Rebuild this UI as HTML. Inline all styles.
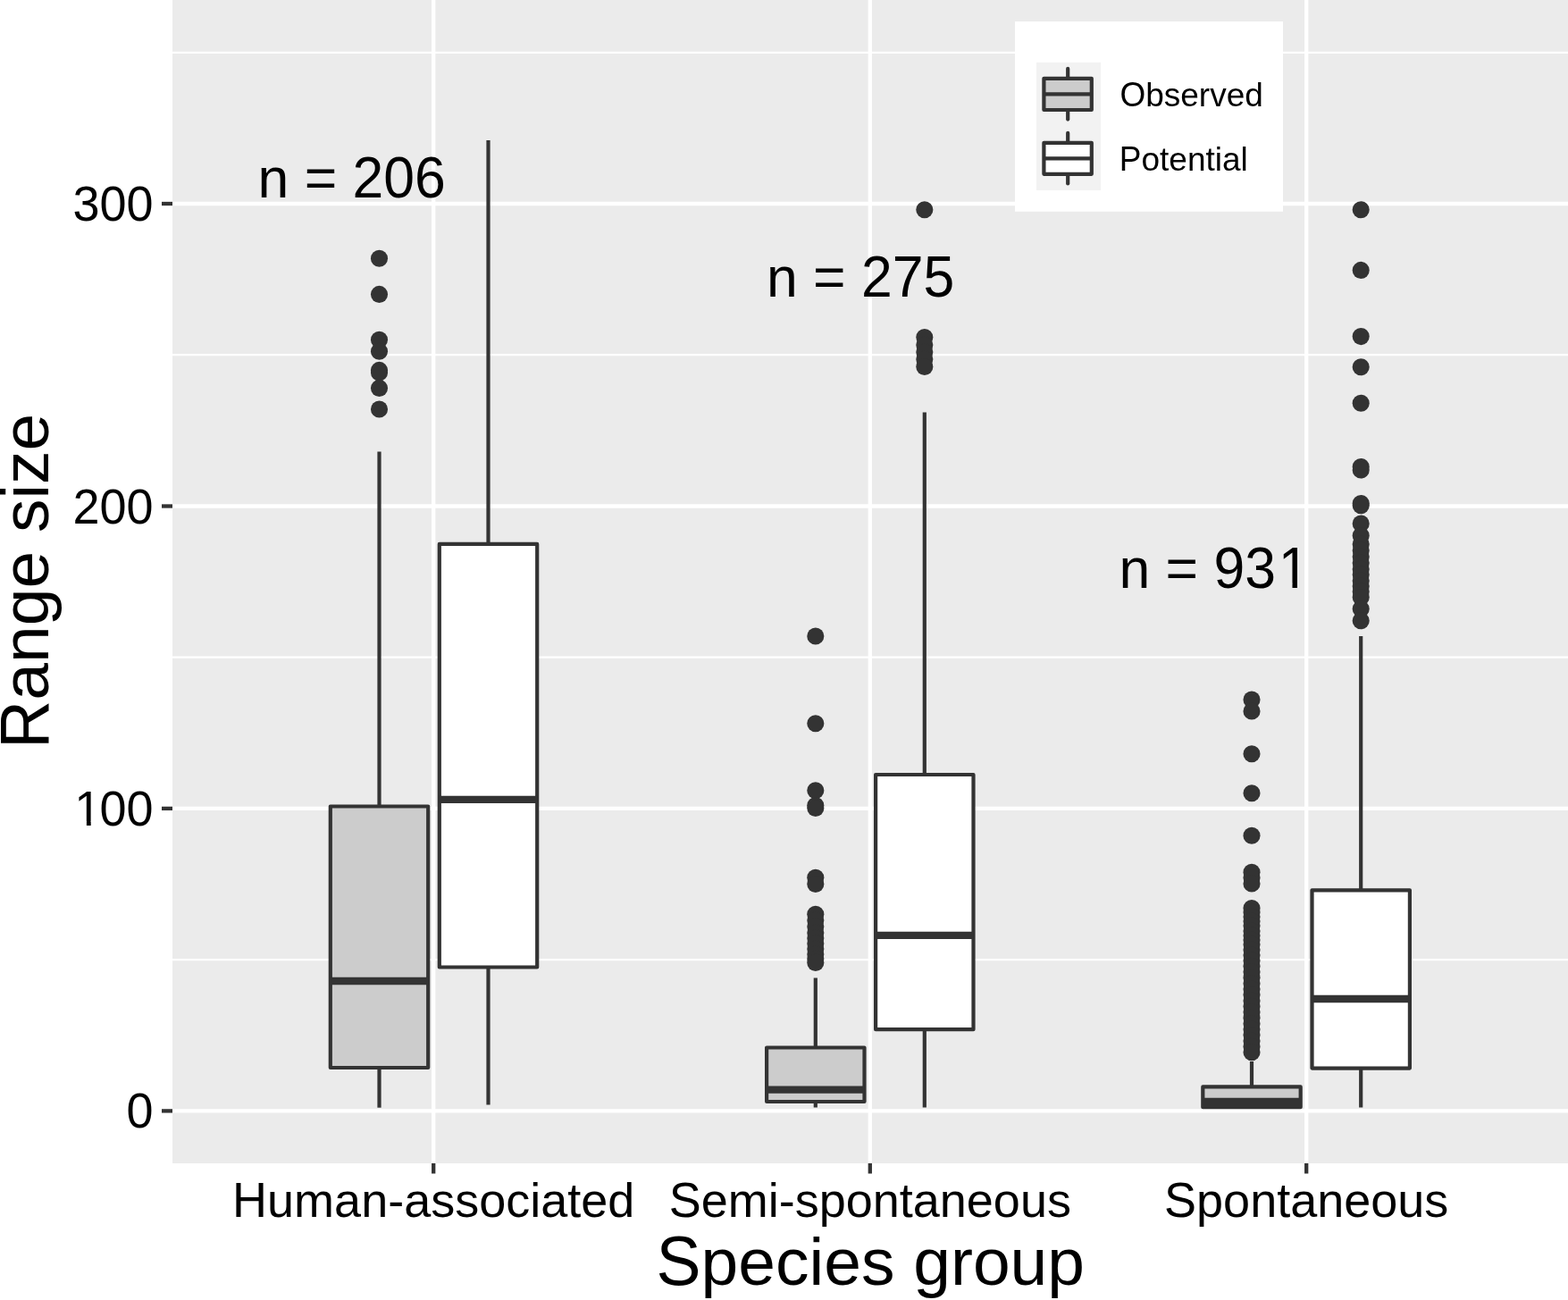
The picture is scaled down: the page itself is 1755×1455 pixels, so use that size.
<!DOCTYPE html>
<html><head><meta charset="utf-8"><title>Range size boxplot</title>
<style>
html,body{margin:0;padding:0;background:#fff;}
body{width:1755px;height:1455px;overflow:hidden;}
svg{display:block;}
text{font-family:"Liberation Sans",Arial,sans-serif;fill:#000;white-space:pre;}
</style></head><body>
<svg width="1755" height="1455" viewBox="0 0 1755 1455">
<defs>
<clipPath id="c100"><rect x="0" y="0" width="200" height="919.0"/><rect x="96.9" y="0" width="4.8" height="960"/></clipPath>
<clipPath id="c931"><rect x="1200" y="0" width="400" height="652.7"/><rect x="1446.5" y="0" width="5.5" height="700"/></clipPath>
</defs>
<rect x="0" y="0" width="1755" height="1455" fill="#fff"/>
<rect x="193" y="0" width="1562" height="1302" fill="#EBEBEB"/>

<line x1="193" x2="1755" y1="1074.2" y2="1074.2" stroke="#fff" stroke-width="2.2"/>
<line x1="193" x2="1755" y1="735.7" y2="735.7" stroke="#fff" stroke-width="2.2"/>
<line x1="193" x2="1755" y1="397.2" y2="397.2" stroke="#fff" stroke-width="2.2"/>
<line x1="193" x2="1755" y1="58.8" y2="58.8" stroke="#fff" stroke-width="2.2"/>
<line x1="193" x2="1755" y1="1243.4" y2="1243.4" stroke="#fff" stroke-width="4.3"/>
<line x1="193" x2="1755" y1="904.9" y2="904.9" stroke="#fff" stroke-width="4.3"/>
<line x1="193" x2="1755" y1="566.5" y2="566.5" stroke="#fff" stroke-width="4.3"/>
<line x1="193" x2="1755" y1="228.0" y2="228.0" stroke="#fff" stroke-width="4.3"/>
<line x1="485.2" x2="485.2" y1="0" y2="1302" stroke="#fff" stroke-width="4.3"/>
<line x1="973.8" x2="973.8" y1="0" y2="1302" stroke="#fff" stroke-width="4.3"/>
<line x1="1462.2" x2="1462.2" y1="0" y2="1302" stroke="#fff" stroke-width="4.3"/>
<g stroke="#333333" stroke-width="4.2" stroke-linejoin="round">
<line x1="424.5" x2="424.5" y1="505.5" y2="902.5"/>
<line x1="424.5" x2="424.5" y1="1195" y2="1239.7"/>
<rect x="369.8" y="902.5" width="109.4" height="292.5" fill="#CCCCCC"/>
<line x1="369.8" x2="479.2" y1="1098" y2="1098" stroke-width="8.3"/>
</g>
<g fill="#333333"><circle cx="424.5" cy="289.2" r="9.55"/><circle cx="424.5" cy="329.4" r="9.55"/><circle cx="424.5" cy="380.3" r="9.55"/><circle cx="424.5" cy="393.3" r="9.55"/><circle cx="424.5" cy="414.4" r="9.55"/><circle cx="424.5" cy="417.0" r="9.55"/><circle cx="424.5" cy="434.4" r="9.55"/><circle cx="424.5" cy="458.0" r="9.55"/></g>
<g stroke="#333333" stroke-width="4.2" stroke-linejoin="round">
<line x1="546.5" x2="546.5" y1="157.1" y2="608.9"/>
<line x1="546.5" x2="546.5" y1="1082.5" y2="1236.5"/>
<rect x="491.8" y="608.9" width="109.4" height="473.6" fill="#FFFFFF"/>
<line x1="491.8" x2="601.2" y1="894.8" y2="894.8" stroke-width="8.3"/>
</g>
<g stroke="#333333" stroke-width="4.2" stroke-linejoin="round">
<line x1="912.8" x2="912.8" y1="1094.5" y2="1172.5"/>
<line x1="912.8" x2="912.8" y1="1233" y2="1239.5"/>
<rect x="858.1" y="1172.5" width="109.4" height="60.5" fill="#CCCCCC"/>
<line x1="858.1" x2="967.5" y1="1219.7" y2="1219.7" stroke-width="8.3"/>
</g>
<g fill="#333333"><circle cx="912.8" cy="712.0" r="9.55"/><circle cx="912.8" cy="809.8" r="9.55"/><circle cx="912.8" cy="884.7" r="9.55"/><circle cx="912.8" cy="901.5" r="9.55"/><circle cx="912.8" cy="904.5" r="9.55"/><circle cx="912.8" cy="982.2" r="9.55"/><circle cx="912.8" cy="989.5" r="9.55"/><circle cx="912.8" cy="1023.3" r="9.55"/><circle cx="912.8" cy="1030.0" r="9.55"/><circle cx="912.8" cy="1037.0" r="9.55"/><circle cx="912.8" cy="1044.0" r="9.55"/><circle cx="912.8" cy="1050.0" r="9.55"/><circle cx="912.8" cy="1056.0" r="9.55"/><circle cx="912.8" cy="1062.0" r="9.55"/><circle cx="912.8" cy="1068.0" r="9.55"/><circle cx="912.8" cy="1073.0" r="9.55"/><circle cx="912.8" cy="1077.4" r="9.55"/></g>
<g stroke="#333333" stroke-width="4.2" stroke-linejoin="round">
<line x1="1034.8" x2="1034.8" y1="461.4" y2="867"/>
<line x1="1034.8" x2="1034.8" y1="1152.2" y2="1239.5"/>
<rect x="980.1" y="867" width="109.4" height="285.2" fill="#FFFFFF"/>
<line x1="980.1" x2="1089.5" y1="1046.8" y2="1046.8" stroke-width="8.3"/>
</g>
<g fill="#333333"><circle cx="1034.8" cy="234.7" r="9.55"/><circle cx="1034.8" cy="377.5" r="9.55"/><circle cx="1034.8" cy="386.0" r="9.55"/><circle cx="1034.8" cy="394.0" r="9.55"/><circle cx="1034.8" cy="402.0" r="9.55"/><circle cx="1034.8" cy="410.5" r="9.55"/></g>
<g stroke="#333333" stroke-width="4.2" stroke-linejoin="round">
<line x1="1401" x2="1401" y1="1188" y2="1216.4"/>
<line x1="1401" x2="1401" y1="1239.2" y2="1240.5"/>
<rect x="1346.3" y="1216.4" width="109.4" height="22.8" fill="#CCCCCC"/>
<line x1="1346.3" x2="1455.7" y1="1232.8" y2="1232.8" stroke-width="8.3"/>
</g>
<g fill="#333333"><circle cx="1401" cy="783.1" r="9.55"/><circle cx="1401" cy="796.0" r="9.55"/><circle cx="1401" cy="843.8" r="9.55"/><circle cx="1401" cy="887.8" r="9.55"/><circle cx="1401" cy="935.2" r="9.55"/><circle cx="1401" cy="976.3" r="9.55"/><circle cx="1401" cy="982.5" r="9.55"/><circle cx="1401" cy="988.9" r="9.55"/><circle cx="1401" cy="1016.6" r="9.55"/><circle cx="1401" cy="1021.0" r="9.55"/><circle cx="1401" cy="1026.0" r="9.55"/><circle cx="1401" cy="1031.0" r="9.55"/><circle cx="1401" cy="1036.0" r="9.55"/><circle cx="1401" cy="1042.0" r="9.55"/><circle cx="1401" cy="1047.0" r="9.55"/><circle cx="1401" cy="1052.0" r="9.55"/><circle cx="1401" cy="1057.0" r="9.55"/><circle cx="1401" cy="1063.0" r="9.55"/><circle cx="1401" cy="1069.0" r="9.55"/><circle cx="1401" cy="1075.0" r="9.55"/><circle cx="1401" cy="1081.4" r="9.55"/><circle cx="1401" cy="1087.8" r="9.55"/><circle cx="1401" cy="1094.3" r="9.55"/><circle cx="1401" cy="1100.7" r="9.55"/><circle cx="1401" cy="1107.1" r="9.55"/><circle cx="1401" cy="1113.5" r="9.55"/><circle cx="1401" cy="1120.0" r="9.55"/><circle cx="1401" cy="1126.4" r="9.55"/><circle cx="1401" cy="1132.8" r="9.55"/><circle cx="1401" cy="1139.2" r="9.55"/><circle cx="1401" cy="1145.7" r="9.55"/><circle cx="1401" cy="1152.1" r="9.55"/><circle cx="1401" cy="1158.5" r="9.55"/><circle cx="1401" cy="1165.0" r="9.55"/><circle cx="1401" cy="1171.4" r="9.55"/><circle cx="1401" cy="1177.8" r="9.55"/></g>
<g stroke="#333333" stroke-width="4.2" stroke-linejoin="round">
<line x1="1523.2" x2="1523.2" y1="712" y2="996.3"/>
<line x1="1523.2" x2="1523.2" y1="1195.6" y2="1239.5"/>
<rect x="1468.5" y="996.3" width="109.4" height="199.3" fill="#FFFFFF"/>
<line x1="1468.5" x2="1577.9" y1="1118" y2="1118" stroke-width="8.3"/>
</g>
<g fill="#333333"><circle cx="1523.2" cy="234.7" r="9.55"/><circle cx="1523.2" cy="302.4" r="9.55"/><circle cx="1523.2" cy="376.6" r="9.55"/><circle cx="1523.2" cy="410.8" r="9.55"/><circle cx="1523.2" cy="451.2" r="9.55"/><circle cx="1523.2" cy="522.5" r="9.55"/><circle cx="1523.2" cy="526.0" r="9.55"/><circle cx="1523.2" cy="563.5" r="9.55"/><circle cx="1523.2" cy="565.8" r="9.55"/><circle cx="1523.2" cy="586.0" r="9.55"/><circle cx="1523.2" cy="599.5" r="9.55"/><circle cx="1523.2" cy="609.0" r="9.55"/><circle cx="1523.2" cy="616.0" r="9.55"/><circle cx="1523.2" cy="623.0" r="9.55"/><circle cx="1523.2" cy="630.0" r="9.55"/><circle cx="1523.2" cy="637.0" r="9.55"/><circle cx="1523.2" cy="643.0" r="9.55"/><circle cx="1523.2" cy="650.0" r="9.55"/><circle cx="1523.2" cy="656.0" r="9.55"/><circle cx="1523.2" cy="662.0" r="9.55"/><circle cx="1523.2" cy="668.5" r="9.55"/><circle cx="1523.2" cy="681.5" r="9.55"/><circle cx="1523.2" cy="694.8" r="9.55"/></g>
<line x1="181" x2="193" y1="1243.4" y2="1243.4" stroke="#333333" stroke-width="4.3"/>
<text transform="translate(141.47,1262.4) scale(1,1.03)" font-size="54">0</text>
<line x1="181" x2="193" y1="904.9" y2="904.9" stroke="#333333" stroke-width="4.3"/>
<g clip-path="url(#c100)"><text transform="translate(83.30,923.9) scale(1,1.03)" font-size="54">1</text></g>
<text transform="translate(111.44,923.9) scale(1,1.03)" font-size="54">00</text>
<line x1="181" x2="193" y1="566.5" y2="566.5" stroke="#333333" stroke-width="4.3"/>
<text transform="translate(81.40,585.5) scale(1,1.03)" font-size="54">200</text>
<line x1="181" x2="193" y1="228.0" y2="228.0" stroke="#333333" stroke-width="4.3"/>
<text transform="translate(81.40,247.0) scale(1,1.03)" font-size="54">300</text>
<line x1="485.2" x2="485.2" y1="1302" y2="1313.5" stroke="#333333" stroke-width="4.3"/>
<text transform="translate(260.09,1362.3) scale(1,1.035)" font-size="54">H</text><text transform="translate(299.09,1362.3) scale(1,1.0)" font-size="54">uman-associated</text>
<line x1="973.8" x2="973.8" y1="1302" y2="1313.5" stroke="#333333" stroke-width="4.3"/>
<text transform="translate(748.66,1362.3) scale(1,1.035)" font-size="54">S</text><text transform="translate(784.68,1362.3) scale(1,1.0)" font-size="54">emi-spontaneous</text>
<line x1="1462.2" x2="1462.2" y1="1302" y2="1313.5" stroke="#333333" stroke-width="4.3"/>
<text transform="translate(1303.06,1362.3) scale(1,1.035)" font-size="54">S</text><text transform="translate(1339.08,1362.3) scale(1,1.0)" font-size="54">pontaneous</text>
<text transform="translate(734.56,1437.8) scale(1,1.035)" font-size="75">S</text><text transform="translate(784.58,1437.8) scale(1,1.0)" font-size="75">pecies group</text>
<text transform="translate(53.6,650.3) rotate(-90) translate(-187.61,0) scale(1,1.035)" font-size="75">R</text><text transform="translate(53.6,650.3) rotate(-90) translate(-133.45,0) scale(1,1.0)" font-size="75">ange size</text>
<text transform="translate(288.60,220.9) scale(1,1.0)" font-size="62.5">n = </text><text transform="translate(394.59,220.9) scale(1,1.03)" font-size="62.5">206</text>
<text transform="translate(857.90,331.8) scale(1,1.0)" font-size="62.5">n = </text><text transform="translate(963.89,331.8) scale(1,1.03)" font-size="62.5">275</text>
<text transform="translate(1252.40,657.8) scale(1,1.0)" font-size="62.5">n = </text><text transform="translate(1358.39,657.8) scale(1,1.03)" font-size="62.5">93</text>
<g clip-path="url(#c931)"><text transform="translate(1430.80,657.8) scale(1,1.03)" font-size="62.5">1</text></g>
<rect x="1136" y="24" width="300" height="212.8" fill="#fff"/>
<rect x="1160" y="69.8" width="72" height="143.2" fill="#F2F2F2"/>
<g stroke="#333333" stroke-width="4.2" stroke-linejoin="round" stroke-linecap="round">
<line x1="1195.2" x2="1195.2" y1="76.9" y2="87.8"/><line x1="1195.2" x2="1195.2" y1="123" y2="133.6"/>
<rect x="1168.4" y="87.8" width="53.4" height="35.2" fill="#CCCCCC"/>
<line x1="1168.4" x2="1221.8" y1="105.4" y2="105.4" stroke-linecap="butt"/>
</g>
<g stroke="#333333" stroke-width="4.2" stroke-linejoin="round" stroke-linecap="round">
<line x1="1195.2" x2="1195.2" y1="148.9" y2="159.8"/><line x1="1195.2" x2="1195.2" y1="194.8" y2="205.4"/>
<rect x="1168.4" y="159.8" width="53.4" height="35.0" fill="#FFFFFF"/>
<line x1="1168.4" x2="1221.8" y1="177.4" y2="177.4" stroke-linecap="butt"/>
</g>
<text transform="translate(1253.40,118.7) scale(1,1.035)" font-size="37">O</text><text transform="translate(1282.18,118.7) scale(1,1.0)" font-size="37">bserved</text>
<text transform="translate(1252.80,190.5) scale(1,1.035)" font-size="37">P</text><text transform="translate(1277.48,190.5) scale(1,1.0)" font-size="37">otential</text>
</svg>
</body></html>
